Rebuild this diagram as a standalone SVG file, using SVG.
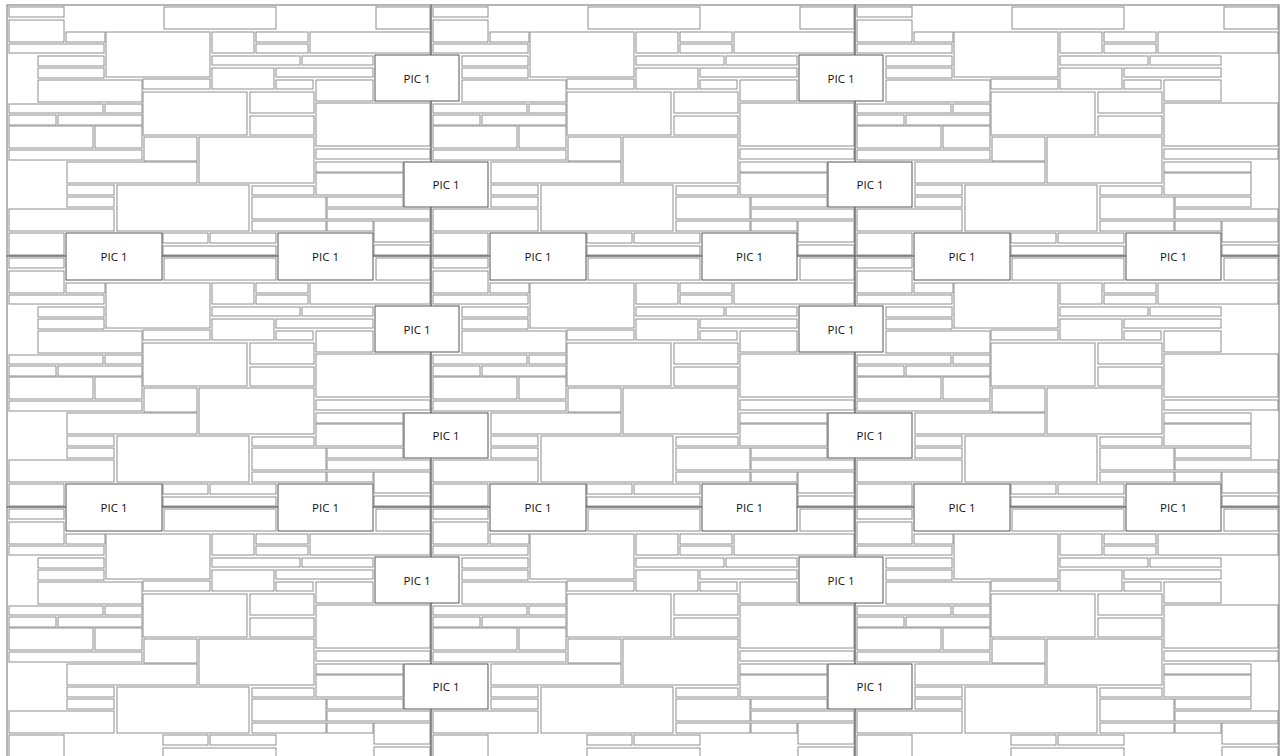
<svg xmlns="http://www.w3.org/2000/svg" xmlns:xlink="http://www.w3.org/1999/xlink" width="1283" height="756" viewBox="0 0 1283 756">
<style>
.b{fill:#fff;stroke:#8e8e8e;stroke-width:1}
.t{fill:none;stroke:#6a6a6a;stroke-width:1}
.p{fill:#fff;stroke:#555;stroke-width:1}
.l{font-family:"Open Sans","Liberation Sans",sans-serif;font-size:11.5px;fill:#111;text-anchor:middle;dominant-baseline:central}
</style>
<defs>
<g id="tile">
<rect class="b" x="9" y="7" width="55" height="10"/>
<rect class="b" x="9" y="20" width="55" height="22"/>
<rect class="b" x="66" y="32" width="39" height="10"/>
<rect class="b" x="106" y="32" width="104" height="45"/>
<rect class="b" x="212" y="32" width="42" height="21"/>
<rect class="b" x="256" y="32" width="52" height="10"/>
<rect class="b" x="256" y="44" width="52" height="9"/>
<rect class="b" x="310" y="32" width="120" height="21"/>
<rect class="b" x="164" y="7" width="112" height="22"/>
<rect class="b" x="376" y="7" width="54" height="22"/>
<rect class="b" x="9" y="44" width="95" height="9"/>
<rect class="b" x="38" y="56" width="66" height="10"/>
<rect class="b" x="38" y="68" width="66" height="10"/>
<rect class="b" x="38" y="80" width="104" height="22"/>
<rect class="b" x="143" y="79" width="67" height="10"/>
<rect class="b" x="212" y="56" width="88" height="9"/>
<rect class="b" x="302" y="56" width="71" height="9"/>
<rect class="b" x="212" y="68" width="62" height="21"/>
<rect class="b" x="276" y="68" width="97" height="9"/>
<rect class="b" x="276" y="80" width="37" height="9"/>
<rect class="b" x="316" y="80" width="57" height="21"/>
<rect class="b" x="143" y="92" width="104" height="43"/>
<rect class="b" x="250" y="92" width="64" height="21"/>
<rect class="b" x="250" y="116" width="64" height="19"/>
<rect class="b" x="316" y="103" width="114" height="43"/>
<rect class="b" x="9" y="104" width="94" height="9"/>
<rect class="b" x="105" y="104" width="37" height="9"/>
<rect class="b" x="9" y="115" width="47" height="10"/>
<rect class="b" x="58" y="115" width="84" height="10"/>
<rect class="b" x="9" y="126" width="84" height="22"/>
<rect class="b" x="95" y="126" width="47" height="22"/>
<rect class="b" x="9" y="150" width="133" height="10"/>
<rect class="b" x="144" y="137" width="53" height="24"/>
<rect class="b" x="199" y="137" width="115" height="46"/>
<rect class="b" x="316" y="149" width="114" height="10"/>
<rect class="b" x="316" y="162" width="87" height="10"/>
<rect class="b" x="316" y="173" width="87" height="22"/>
<rect class="b" x="67" y="162" width="130" height="21"/>
<rect class="b" x="67" y="185" width="47" height="10"/>
<rect class="b" x="67" y="197" width="47" height="10"/>
<rect class="b" x="9" y="209" width="105" height="22"/>
<rect class="b" x="117" y="185" width="132" height="46"/>
<rect class="b" x="252" y="186" width="62" height="9"/>
<rect class="b" x="252" y="197" width="74" height="22"/>
<rect class="b" x="327" y="197" width="76" height="10"/>
<rect class="b" x="327" y="209" width="103" height="10"/>
<rect class="b" x="252" y="221" width="74" height="10"/>
<rect class="b" x="327" y="221" width="46" height="10"/>
<rect class="b" x="374" y="221" width="56" height="21"/>
<rect class="b" x="374" y="245" width="56" height="10"/>
<rect class="b" x="9" y="233" width="55" height="22"/>
<rect class="b" x="163" y="233" width="45" height="10"/>
<rect class="b" x="210" y="233" width="66" height="10"/>
<rect class="b" x="163" y="246" width="113" height="9"/>
<rect class="t" x="7" y="5" width="424" height="251"/>
</g>
<rect id="pa" class="p" x="375" y="55" width="84" height="46"/>
<rect id="pb" class="p" x="404" y="162" width="84" height="45"/>
<rect id="pc" class="p" x="66" y="233" width="96" height="47"/>
<rect id="pd" class="p" x="278" y="233" width="95" height="47"/>
</defs>
<g id="tiles">
<use xlink:href="#tile"/>
<use xlink:href="#tile" x="424"/>
<use xlink:href="#tile" x="848"/>
<use xlink:href="#tile" y="251"/>
<use xlink:href="#tile" x="424" y="251"/>
<use xlink:href="#tile" x="848" y="251"/>
<use xlink:href="#tile" y="502"/>
<use xlink:href="#tile" x="424" y="502"/>
<use xlink:href="#tile" x="848" y="502"/>
</g>
<g id="pics">
<use xlink:href="#pa"/><use xlink:href="#pa" x="424"/>
<use xlink:href="#pa" y="251"/><use xlink:href="#pa" x="424" y="251"/>
<use xlink:href="#pa" y="502"/><use xlink:href="#pa" x="424" y="502"/>
<use xlink:href="#pb"/><use xlink:href="#pb" x="424"/>
<use xlink:href="#pb" y="251"/><use xlink:href="#pb" x="424" y="251"/>
<use xlink:href="#pb" y="502"/><use xlink:href="#pb" x="424" y="502"/>
<use xlink:href="#pc"/><use xlink:href="#pc" x="424"/><use xlink:href="#pc" x="848"/>
<use xlink:href="#pc" y="251"/><use xlink:href="#pc" x="424" y="251"/><use xlink:href="#pc" x="848" y="251"/>
<use xlink:href="#pd"/><use xlink:href="#pd" x="424"/><use xlink:href="#pd" x="848"/>
<use xlink:href="#pd" y="251"/><use xlink:href="#pd" x="424" y="251"/><use xlink:href="#pd" x="848" y="251"/>
</g>
<g id="labels">
<text class="l" x="417" y="78">PIC 1</text>
<text class="l" x="841" y="78">PIC 1</text>
<text class="l" x="417" y="329">PIC 1</text>
<text class="l" x="841" y="329">PIC 1</text>
<text class="l" x="417" y="580">PIC 1</text>
<text class="l" x="841" y="580">PIC 1</text>
<text class="l" x="446" y="184.5">PIC 1</text>
<text class="l" x="870" y="184.5">PIC 1</text>
<text class="l" x="446" y="435.5">PIC 1</text>
<text class="l" x="870" y="435.5">PIC 1</text>
<text class="l" x="446" y="686.5">PIC 1</text>
<text class="l" x="870" y="686.5">PIC 1</text>
<text class="l" x="114" y="256.5">PIC 1</text>
<text class="l" x="538" y="256.5">PIC 1</text>
<text class="l" x="962" y="256.5">PIC 1</text>
<text class="l" x="114" y="507.5">PIC 1</text>
<text class="l" x="538" y="507.5">PIC 1</text>
<text class="l" x="962" y="507.5">PIC 1</text>
<text class="l" x="325.5" y="256.5">PIC 1</text>
<text class="l" x="749.5" y="256.5">PIC 1</text>
<text class="l" x="1173.5" y="256.5">PIC 1</text>
<text class="l" x="325.5" y="507.5">PIC 1</text>
<text class="l" x="749.5" y="507.5">PIC 1</text>
<text class="l" x="1173.5" y="507.5">PIC 1</text>
</g>
</svg>
